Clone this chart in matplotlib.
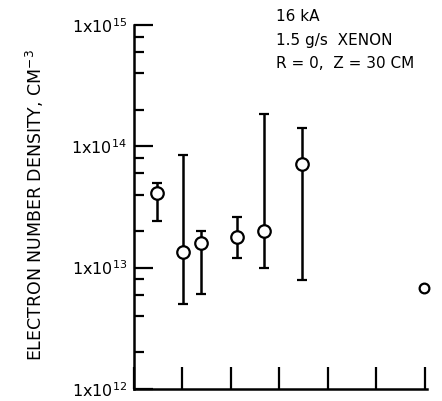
import numpy as np
import matplotlib
matplotlib.use('Agg')
import matplotlib.pyplot as plt
from matplotlib.ticker import FixedLocator, NullFormatter

# values (x axis has no labels)
x_pos = [0.47, 1.01, 1.38, 2.12, 2.68, 3.46]
density = [4.1e13, 1.35e13, 1.6e13, 1.8e13, 2.0e13, 7.2e13]
upper = [5.0e13, 8.5e13, 2.0e13, 2.6e13, 1.85e14, 1.4e14]
lower = [2.4e13, 5.0e12, 6.1e12, 1.2e13, 1.0e13, 7.9e12]
x_single = [5.98]
density_single = [6.8e12]

y_major = [1e12, 1e13, 1e14, 1e15]
y_labels = [r'1x10$^{12}$', r'1x10$^{13}$', r'1x10$^{14}$', r'1x10$^{15}$']
x_ticks = [0, 1, 2, 3, 4, 5, 6]
notes = ['16 kA', '1.5 g/s  XENON', 'R = 0,  Z = 30 CM']

plt.rcParams['font.family'] = ['DejaVu Sans']

fig = plt.figure(figsize=(4.42, 4.01), dpi=100)
ax = fig.add_axes([0.303, 0.030, 0.663, 0.908])

density = np.array(density)
yerr = [density - np.array(lower), np.array(upper) - density]
ax.errorbar(x_pos, density, yerr=yerr, fmt='o', color='black', mfc='white',
            mec='black', ms=9, mew=1.6, elinewidth=1.8, capsize=3.5, capthick=1.8)
ax.plot(x_single, density_single, 'o', color='black', mfc='white', ms=7,
        mew=1.6, clip_on=False)

ax.set_yscale('log')
ax.set_ylim(1e12, 1e15)
ax.set_xlim(0, 6.05)

ax.yaxis.set_major_locator(FixedLocator(y_major))
ax.set_yticklabels(y_labels, fontsize=11.5)
minors = [m * 10.0**e for e in (12, 13, 14) for m in (2, 4, 6, 8)]
ax.yaxis.set_minor_locator(FixedLocator(minors))
ax.yaxis.set_minor_formatter(NullFormatter())
ax.set_xticks(x_ticks)
ax.set_xticklabels([])

ax.tick_params(axis='y', which='major', direction='in', length=13.5, width=1.6, pad=5)
ax.tick_params(axis='y', which='minor', direction='in', length=7, width=1.6)
ax.tick_params(axis='x', which='major', direction='in', length=16, width=1.6)
ax.tick_params(axis='x', which='minor', bottom=False)

for side in ('top', 'right'):
    ax.spines[side].set_visible(False)
for side in ('left', 'bottom'):
    ax.spines[side].set_linewidth(1.8)

ax.set_ylabel(r'ELECTRON NUMBER DENSITY, CM$^{-3}$', fontsize=12.5)
ax.yaxis.set_label_coords(-0.30, 0.505)

for i, t in enumerate(notes):
    fig.text(0.624, 0.958 - i * 0.058, t, fontsize=11, va='center', ha='left')

fig.savefig('out.png', dpi=100)
